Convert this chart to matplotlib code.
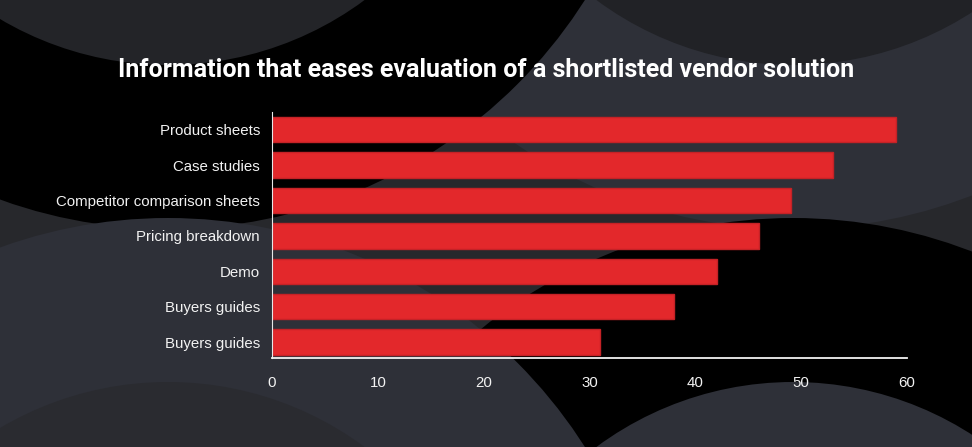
import numpy as np
import matplotlib
matplotlib.use("Agg")
import matplotlib.pyplot as plt
from matplotlib.patches import Circle

categories = ["Product sheets", "Case studies", "Competitor comparison sheets",
              "Pricing breakdown", "Demo", "Buyers guides", "Buyers guides"]
values = [59, 53, 49, 46, 42, 38, 31]
xticks = [0, 10, 20, 30, 40, 50, 60]
title = "Information that eases evaluation of a shortlisted vendor solution"

W, H = 972, 447
fig = plt.figure(figsize=(W / 100, H / 100), dpi=100)
fig.patch.set_facecolor("#27282c")

# background: overlapping circles (pixel coords, y down)
bg = fig.add_axes([0, 0, 1, 1])
bg.set_xlim(0, W)
bg.set_ylim(H, 0)
bg.axis("off")
bg.set_facecolor("#27282c")
rings = [
    ((793, -265), 494, "#2e3038"),
    ((793, -265), 330, "#212226"),
    ((793, 712), 494, "#000000"),
    ((793, 712), 330, "#2e3038"),
    ((168, -265), 494, "#000000"),
    ((168, -265), 330, "#232428"),
    ((168, 712), 494, "#2e3038"),
    ((168, 712), 330, "#2a2b30"),
]
for c, r, col in rings:
    bg.add_patch(Circle(c, r, facecolor=col, edgecolor="none"))

# chart
ax = fig.add_axes([272 / W, 89 / H, 635 / W, 246 / H])
ax.set_facecolor("none")
pos = np.arange(len(categories))
ax.barh(pos, values, height=0.72, color="#e3282b", edgecolor="#c42226", linewidth=1)
ax.set_ylim(6.45, -0.5)
ax.set_xlim(0, 60)
ax.set_yticks(pos)
ax.set_yticklabels(categories)
ax.set_xticks(xticks)
for lab in ax.get_yticklabels() + ax.get_xticklabels():
    lab.set_family(["Liberation Sans", "DejaVu Sans"])
    lab.set_fontsize(10.8)
    lab.set_color("#f2f2f2")
ax.tick_params(axis="y", length=0, pad=8.6)
ax.tick_params(axis="x", length=0, pad=13)
for s in ["top", "right"]:
    ax.spines[s].set_visible(False)
ax.spines["left"].set_color("#e8e8e8")
ax.spines["left"].set_linewidth(0.8)
ax.spines["bottom"].set_color("#f2f2f2")
ax.spines["bottom"].set_linewidth(1.3)

fig.text(0.5, 1 - 70 / H, title, ha="center", va="center", color="white",
         fontsize=18, fontweight="bold", family=["Roboto", "DejaVu Sans"])

fig.savefig("out.png", dpi=100, facecolor=fig.get_facecolor())
